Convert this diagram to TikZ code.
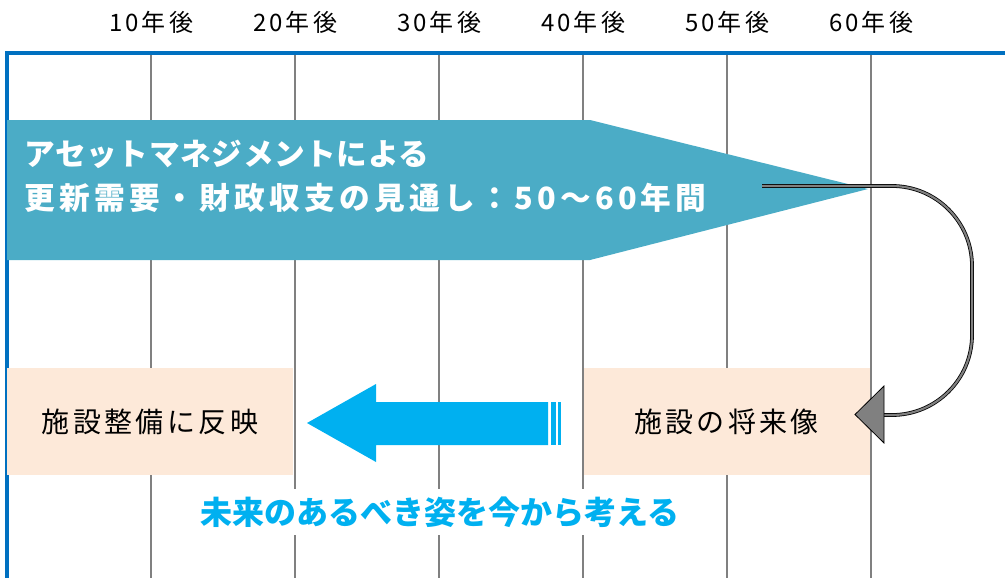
\documentclass[tikz,border=0pt]{standalone}
\usepackage{fontspec}
\newfontfamily\jp{Noto Sans CJK JP}
\usetikzlibrary{positioning}
\definecolor{frameblue}{RGB}{0,112,192}
\definecolor{bannerblue}{RGB}{75,172,198}
\definecolor{peach}{RGB}{253,233,217}
\definecolor{skyblue}{RGB}{0,176,240}
\tikzset{
  gridline/.style={black!50, line width=1.1pt},
  yearlabel/.style={font=\jp\fontsize{18}{18}\selectfont\addfontfeature{LetterSpace=13}},
  peachbox/.style={fill=peach, inner sep=0pt, minimum width=214.5pt, minimum height=80pt,
    font=\jp\fontsize{21}{21}\selectfont\addfontfeature{LetterSpace=12}},
  connector/.style={double=gray, double distance=1.6pt, line width=0.6pt, draw=black, rounded corners=60pt}
}
\begin{document}
\begin{tikzpicture}[x=0.75pt, y=-0.75pt]
			\useasboundingbox (0,0) rectangle (1005,578);
			% Zeitachse
			\foreach \x/\n in {151/10,295/20,439/30,583/40,727/50,871/60}{
				\draw[gridline] (\x,53)--(\x,578);
				\node[yearlabel] (y\n) at(\x,22) {\n 年後};
			}
			\draw[frameblue, line width=2.4pt] (1005,53)--(7,53)--(7,578);
			% Banner
			\coordinate (A) at(7,120);
			\coordinate (B) at(590,120);
			\coordinate (T) at(868,189);
			\coordinate (C) at(590,260);
			\coordinate (D) at(7,260);
			\fill[bannerblue] (A)--(B)--(T)--(C)--(D)--cycle;
			\node[anchor=west, align=left, text=white, font=\jp\bfseries\fontsize{23}{33}\selectfont] (title) at(20,176)
				{{\addfontfeature{LetterSpace=2}アセットマネジメントによる}\\
				 {\addfontfeature{LetterSpace=14}更新需要・財政収支の見通し：50～60年間}};
			% Kaesten
			\node[peachbox] (reflect) at(150,421.5) {施設整備に反映};
			\node[peachbox] (future) at(726.5,421.5) {施設の将来像};
			% Pfeil nach links
			\fill[skyblue] (307,423)--(376,384)--(376,402)--(548,402)--(548,445)--(376,445)--(376,462)--cycle;
			\fill[skyblue] (550.5,402) rectangle (555.5,445);
			\fill[skyblue] (558,402) rectangle (561,445);
			\node[fill=white, inner xsep=8pt, inner ysep=6pt, text=skyblue, font=\jp\bfseries\fontsize{24}{24}\selectfont] (think) at(440,512)
				{未来のあるべき姿を今から考える};
			% Verbindung
			\coordinate (cs) at(762,186);
			\coordinate (ce) at(884,415);
			\draw[connector] (cs)--(972,186)--(972,415)--(ce);
			\filldraw[fill=gray, draw=black, line width=0.6pt] (884,386)--(855,414.5)--(884,443)--cycle;
		\end{tikzpicture}
\end{document}
